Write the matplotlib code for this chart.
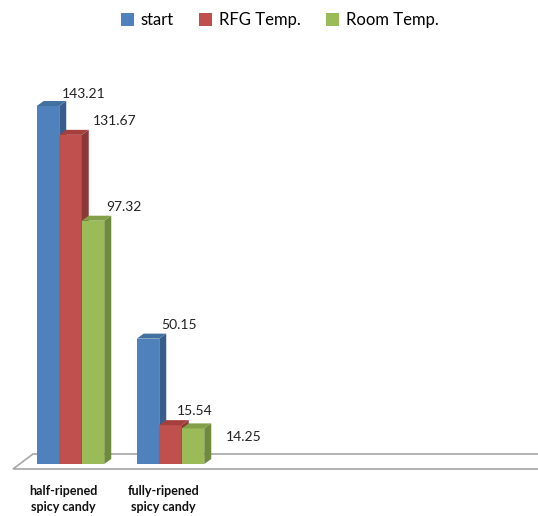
import matplotlib.pyplot as plt
from matplotlib.patches import Polygon, Patch

categories = ['half-ripened\nspicy candy', 'fully-ripened\nspicy candy']
series_names = ['start', 'RFG Temp.', 'Room Temp.']
start = [143.21, 50.15]
rfg_temp = [131.67, 15.54]
room_temp = [97.32, 14.25]

front_colors = ['#4F81BD', '#C0504D', '#9BBB59']
side_colors = ['#385D8A', '#8C3836', '#6E8A3C']
top_colors = ['#42709F', '#A53F3C', '#82A048']

# label offsets in pixels (dx from bar centre, dy from bar top)
label_offsets = [
    [(36, 12), (44, 14), (31, 14)],
    [(31, 14), (24, 14), (51, -9)],
]

plt.rcParams['font.family'] = ['Lato', 'DejaVu Sans']

fig = plt.figure(figsize=(5.38, 5.16), dpi=100)
ax = fig.add_axes([0, 0.1008, 1, 0.872])
ax.set_xlim(-0.705, 4.675)
ax.set_ylim(0, 180)
ax.axis('off')

width = 0.225
depth_x = 0.07
depth_y = 2.0

# floor
floor = Polygon([(-0.575, -2), (5.5, -2), (5.5, 4), (-0.375, 4)],
                closed=True, facecolor='white', edgecolor='#A6A6A6',
                linewidth=1.2, clip_on=False, zorder=1)
ax.add_patch(floor)

series = [start, rfg_temp, room_temp]
z = 2
for g in range(len(categories)):
    for i, vals in enumerate(series):
        v = vals[g]
        x0 = g + (i - 1.5) * width
        x1 = x0 + width
        ax.bar(x0, v, width, align='edge', color=front_colors[i],
               linewidth=0, zorder=z)
        side = Polygon([(x1, 0), (x1 + depth_x, depth_y),
                        (x1 + depth_x, v + depth_y), (x1, v)],
                       closed=True, facecolor=side_colors[i], linewidth=0,
                       zorder=z)
        top = Polygon([(x0, v), (x1, v), (x1 + depth_x, v + depth_y),
                       (x0 + depth_x, v + depth_y)],
                      closed=True, facecolor=top_colors[i], linewidth=0,
                      zorder=z)
        ax.add_patch(side)
        ax.add_patch(top)
        z += 1
        dx, dy = label_offsets[g][i]
        ax.annotate(f'{v:.2f}', xy=(x0 + width / 2, v), xytext=(dx, dy),
                    textcoords='offset pixels', ha='center', va='center',
                    fontsize=10, color='#222222', zorder=20)

for g, cat in enumerate(categories):
    ax.annotate(cat, xy=(g, 0), xytext=(-7, -35),
                textcoords='offset pixels', ha='center', va='center',
                fontsize=9, fontweight='bold', color='#111111',
                linespacing=1.45, annotation_clip=False)

handles = [Patch(facecolor=c, edgecolor='none') for c in front_colors]
fig.legend(handles, series_names, loc='upper center', ncol=3,
           bbox_to_anchor=(0.52, 1.005), frameon=False, fontsize=12,
           handlelength=0.8, handleheight=0.8, handletextpad=0.4,
           columnspacing=1.5)

fig.savefig('out.png', dpi=100)
